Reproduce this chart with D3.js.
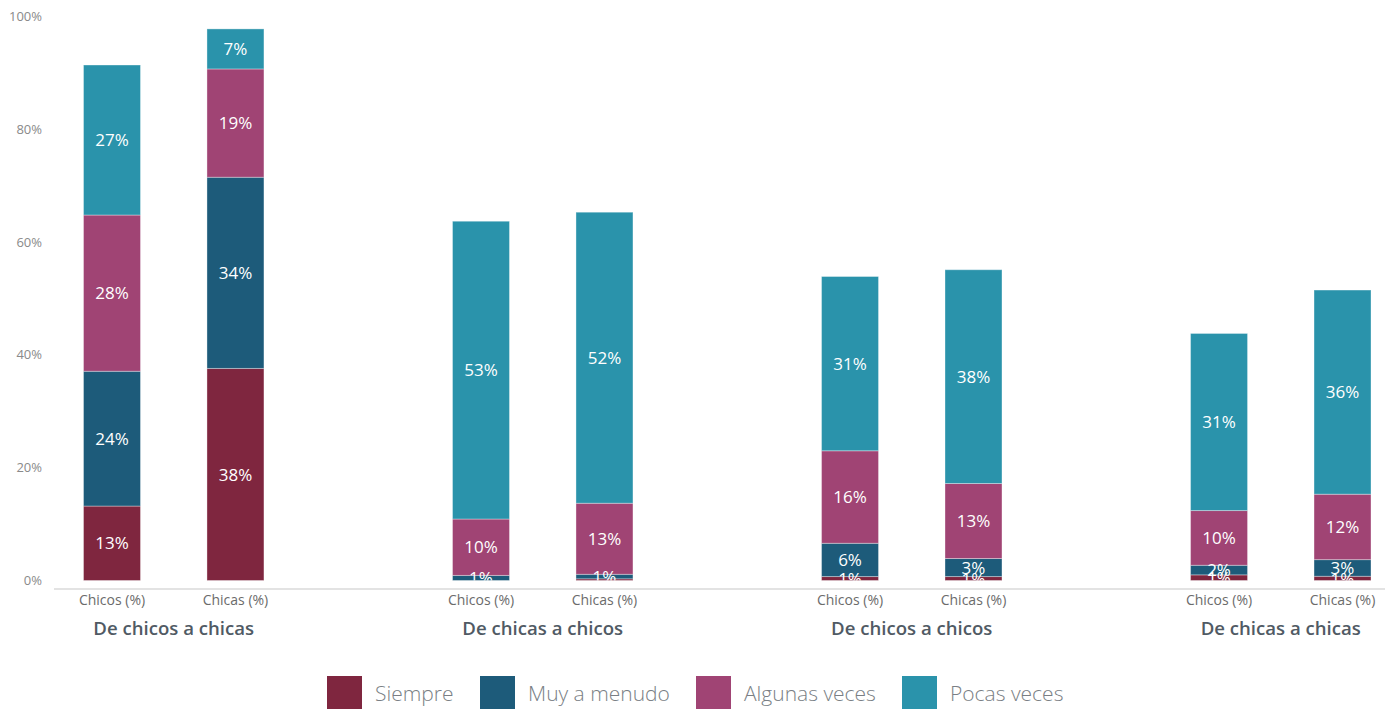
<!DOCTYPE html>
<html><head><meta charset="utf-8">
<script src="https://cdn.jsdelivr.net/npm/d3@7"></script>
<style>body{margin:0;background:#fff;font-family:"Open Sans",sans-serif;}</style>
</head><body><svg id="c" width="1399" height="709"></svg>
<script>
const groups = ["De chicos a chicas", "De chicas a chicos", "De chicos a chicos", "De chicas a chicas"];
const bars = ["Chicos (%)", "Chicas (%)"];
const seriesNames = ["Siempre", "Muy a menudo", "Algunas veces", "Pocas veces"];
const colors = ["#7f263f", "#1d5b7a", "#a04474", "#2a93ab"];
const yTicks = [0, 20, 40, 60, 80, 100];
// values per bar (group order, Chicos then Chicas)
const siempre  = [13.2, 37.6, 0,    0.3,  0.7,  0.7,  1.0,  0.75];
const muy      = [23.9, 33.9, 0.9,  0.8,  5.9,  3.2,  1.7,  2.95];
const algunas  = [27.7, 19.2, 10.0, 12.6, 16.4, 13.3, 9.7,  11.6];
const pocas    = [26.6, 7.1,  52.8, 51.6, 30.9, 37.9, 31.4, 36.2];

const svg = d3.select("#c");
const y = d3.scaleLinear().domain([0, 100]).range([580.5, 16.5]);
const gx = d3.scaleBand().domain(groups).range([83.5, 1371]).paddingInner(0.511).paddingOuter(0);
const bx = d3.scaleBand().domain(bars).range([0, gx.bandwidth()]).paddingInner(0.5385).paddingOuter(0);

const rows = [];
groups.forEach((g, gi) => bars.forEach((b, bi) => {
  const i = gi * 2 + bi;
  rows.push({group: g, bar: b, Siempre: siempre[i], "Muy a menudo": muy[i], "Algunas veces": algunas[i], "Pocas veces": pocas[i]});
}));
const stacked = d3.stack().keys(seriesNames)(rows);

svg.append("defs").append("clipPath").attr("id", "plotclip")
  .append("rect").attr("x", 0).attr("y", 0).attr("width", 1399).attr("height", y(0));

// y tick labels
svg.append("g").selectAll("text").data(yTicks).join("text")
  .attr("x", 42).attr("y", d => y(d)).attr("dy", "0.35em")
  .attr("text-anchor", "end").attr("font-size", 13).attr("fill", "#8a8a8a")
  .text(d => d + "%");

// baseline
svg.append("line").attr("x1", 54).attr("x2", 1385).attr("y1", 589).attr("y2", 589)
  .attr("stroke", "#e3e3e3").attr("stroke-width", 2);

const layers = svg.append("g").selectAll("g").data(stacked).join("g")
  .attr("fill", (d, i) => colors[i]);
layers.selectAll("rect").data(d => d).join("rect")
  .attr("x", d => gx(d.data.group) + bx(d.data.bar))
  .attr("width", bx.bandwidth())
  .attr("y", d => y(d[1]))
  .attr("height", d => Math.max(0, y(d[0]) - y(d[1])))
  .attr("stroke", "rgba(255,255,255,0.35)").attr("stroke-width", 1);

// value labels
const lab = svg.append("g").attr("clip-path", "url(#plotclip)");
stacked.forEach(layer => {
  layer.forEach(d => {
    const v = d[1] - d[0];
    if (Math.round(v) < 1) return;
    lab.append("text")
      .attr("x", gx(d.data.group) + bx(d.data.bar) + bx.bandwidth() / 2)
      .attr("y", (y(d[0]) + y(d[1])) / 2).attr("dy", "0.36em")
      .attr("text-anchor", "middle").attr("font-size", 17).attr("font-weight", 500)
      .attr("fill", "#fff").text(Math.round(v) + "%");
  });
});

// bar category labels
rows.forEach(r => {
  svg.append("text").attr("x", gx(r.group) + bx(r.bar) + bx.bandwidth() / 2).attr("y", 600).attr("dy", "0.35em")
    .attr("text-anchor", "middle").attr("font-size", 14).attr("fill", "#6b6b6b").text(r.bar);
});
// group labels
svg.append("g").selectAll("text").data(groups).join("text")
  .attr("x", d => gx(d) + gx.bandwidth() / 2).attr("y", 628).attr("dy", "0.35em")
  .attr("text-anchor", "middle").attr("font-size", 18.6).attr("font-weight", 600).attr("fill", "#505a64")
  .text(d => d);

// legend
const legX = [327, 480, 696, 902];
const leg = svg.append("g").selectAll("g").data(seriesNames).join("g")
  .attr("transform", (d, i) => `translate(${legX[i]},676)`);
leg.append("rect").attr("width", 35).attr("height", 35).attr("fill", (d, i) => colors[i]);
leg.append("text").attr("x", 48).attr("y", 17.5).attr("dy", "0.35em")
  .attr("font-size", 21).attr("font-weight", 300).attr("fill", "#7a7f85").text(d => d);
</script></body></html>
